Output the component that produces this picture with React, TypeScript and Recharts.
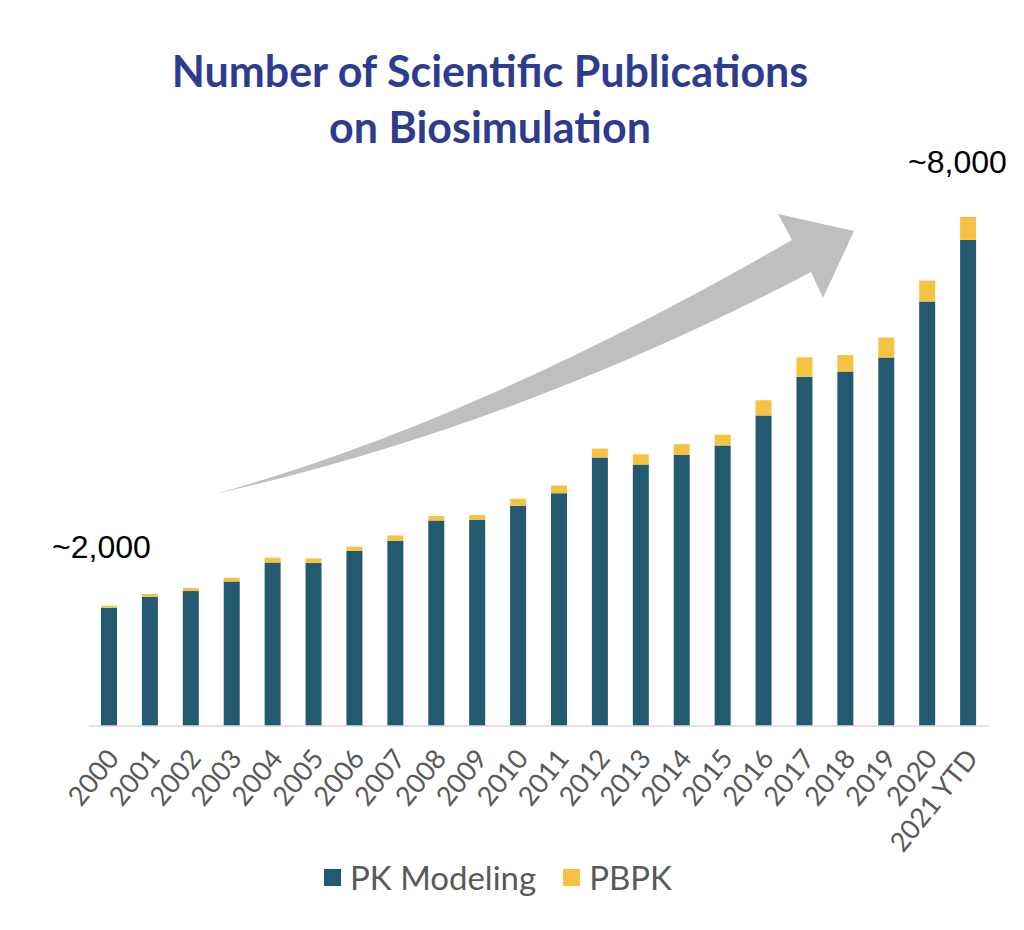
import React from 'react';
import { BarChart, Bar, XAxis, YAxis } from 'recharts';

const years = [
  '2000', '2001', '2002', '2003', '2004', '2005', '2006', '2007', '2008', '2009', '2010',
  '2011', '2012', '2013', '2014', '2015', '2016', '2017', '2018', '2019', '2020', '2021 YTD',
];
const pkModeling = [
  1860, 2030, 2120, 2270, 2570, 2560, 2750, 2910, 3230, 3240, 3460,
  3660, 4220, 4110, 4260, 4410, 4880, 5490, 5570, 5790, 6670, 7640,
];
const pbpk = [
  30, 45, 50, 60, 75, 75, 70, 85, 70, 75, 110,
  120, 140, 160, 170, 170, 240, 305, 260, 315, 330, 360,
];

const data = years.map((year, i) => ({ year, pk: pkModeling[i], pbpk: pbpk[i] }));

const BLUE = '#245A71';
const YELLOW = '#F5C242';
const GRAY_TEXT = '#595959';

const YearTick = (props: any) => {
  const { x, y, payload } = props;
  return (
    <g transform={`translate(${x + 11},${y + 33})`}>
      <text
        textAnchor="end"
        transform="rotate(-51)"
        fill={GRAY_TEXT}
        fontSize={27}
        fontFamily="Lato"
      >
        {payload.value}
      </text>
    </g>
  );
};

export default function App() {
  return (
    <div style={{ position: 'absolute', left: 0, top: 0, width: 1024, height: 930, background: '#fff' }}>
      <div
        style={{
          position: 'absolute',
          left: 0,
          top: 43,
          width: 980,
          textAlign: 'center',
          fontFamily: 'Lato',
          fontWeight: 'bold',
          fontSize: 43,
          lineHeight: '56px',
          color: '#2E3C8F',
        }}
      >
        Number of Scientific Publications
        <br />
        on Biosimulation
      </div>

      <svg width={1024} height={930} style={{ position: 'absolute', left: 0, top: 0 }}>
        {/* growth arrow */}
        <path
          d="M 215 494 Q 480 420 792 240 L 778 214 L 854 231 L 823 298 L 811 272 Q 520 425 215 494 Z"
          fill="#BFBFBF"
        />
        <text x={52} y={558} fontFamily="Liberation Sans" fontSize={32} fill="#000">~2,000</text>
        <text x={908} y={173} fontFamily="Liberation Sans" fontSize={32} fill="#000">~8,000</text>
      </svg>

      <div style={{ position: 'absolute', left: 0, top: 0 }}>
        <BarChart
          width={1024}
          height={930}
          data={data}
          margin={{ top: 217, right: 35, bottom: 0, left: 89 }}
          barSize={16}
        >
          <XAxis
            dataKey="year"
            interval={0}
            height={204}
            tickLine={false}
            tickSize={0}
            tickMargin={0}
            axisLine={{ stroke: '#D9D9D9', strokeWidth: 1.5 }}
            tick={<YearTick />}
          />
          <YAxis hide domain={[0, 8000]} />
          <Bar dataKey="pk" stackId="a" fill={BLUE} isAnimationActive={false} />
          <Bar dataKey="pbpk" stackId="a" fill={YELLOW} isAnimationActive={false} />
        </BarChart>
      </div>

      <div
        style={{
          position: 'absolute',
          top: 857,
          left: 0,
          width: 996,
          display: 'flex',
          justifyContent: 'center',
          alignItems: 'center',
          fontFamily: 'Lato',
          fontSize: 33,
          color: GRAY_TEXT,
        }}
      >
        <span style={{ display: 'inline-block', width: 17, height: 17, background: BLUE, marginRight: 9 }} />
        <span>PK Modeling</span>
        <span style={{ display: 'inline-block', width: 17, height: 17, background: YELLOW, marginLeft: 27, marginRight: 9 }} />
        <span>PBPK</span>
      </div>
    </div>
  );
}
